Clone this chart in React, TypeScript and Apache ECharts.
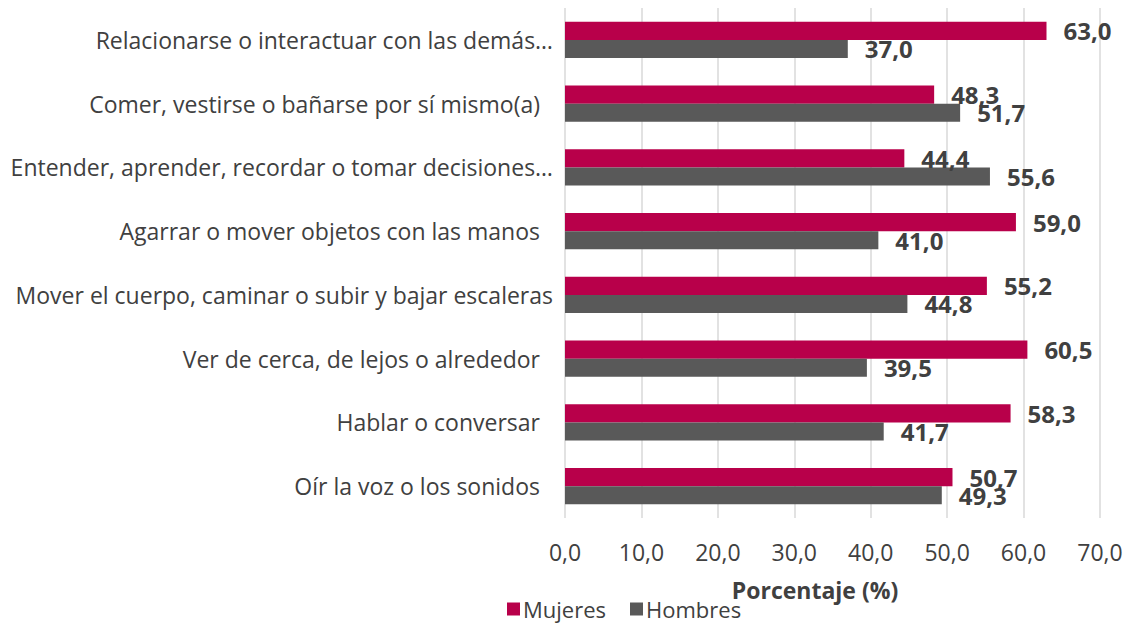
import React, { useEffect, useRef } from "react";
import * as echarts from "echarts";

const categories = [
  "Relacionarse o interactuar con las demás…",
  "Comer, vestirse o bañarse por sí mismo(a) ",
  "Entender, aprender, recordar o tomar decisiones…",
  "Agarrar o mover objetos con las manos ",
  "Mover el cuerpo, caminar o subir y bajar escaleras",
  "Ver de cerca, de lejos o alrededor ",
  "Hablar o conversar ",
  "Oír la voz o los sonidos ",
];
const mujeres = [63.0, 48.3, 44.4, 59.0, 55.2, 60.5, 58.3, 50.7];
const hombres = [37.0, 51.7, 55.6, 41.0, 44.8, 39.5, 41.7, 49.3];
const seriesNames = ["Mujeres", "Hombres"];
const axisTitle = "Porcentaje (%)";

const FONT = "'Open Sans', 'Noto Sans', sans-serif";
const fmt = (v: number) => v.toFixed(1).replace(".", ",");

export default function App() {
  const ref = useRef<HTMLDivElement>(null);
  useEffect(() => {
    if (!ref.current) return;
    const chart = echarts.init(ref.current, null, { renderer: "svg" });
    const label = {
      show: true,
      position: "right" as const,
      distance: 17,
      fontFamily: FONT,
      fontSize: 24,
      fontWeight: "bold" as const,
      color: "#404040",
      formatter: (p: any) => fmt(p.value),
    };
    chart.setOption({
      animation: false,
      textStyle: { fontFamily: FONT },
      grid: { left: 565, right: 26, top: 8, bottom: 106, containLabel: false },
      legend: {
        data: seriesNames,
        top: 598,
        left: 507,
        padding: 0,
        itemWidth: 13,
        itemHeight: 13,
        itemGap: 24,
        icon: "rect",
        textStyle: { fontFamily: FONT, fontSize: 22, color: "#404040", padding: [0, 0, 0, -2] },
      },
      xAxis: {
        type: "value",
        min: 0,
        max: 70,
        interval: 10,
        name: axisTitle,
        nameLocation: "middle",
        nameGap: 60,
        nameTextStyle: {
          fontFamily: FONT,
          fontSize: 23,
          fontWeight: "bold",
          color: "#404040",
          padding: [0, 35, 0, 0],
        },
        axisLine: { show: false },
        axisTick: { show: false },
        axisLabel: {
          margin: 22,
          fontFamily: FONT,
          fontSize: 23,
          color: "#404040",
          formatter: (v: number) => fmt(v),
        },
        splitLine: { show: true, lineStyle: { color: "#D9D9D9", width: 1.5 } },
      },
      yAxis: {
        type: "category",
        data: categories,
        inverse: true,
        axisLine: { show: false },
        axisTick: { show: false },
        axisLabel: {
          margin: 12,
          fontFamily: FONT,
          fontSize: 23,
          color: "#404040",
          formatter: (v: string) =>
            v.endsWith(" ") ? `{p|${v.trimEnd()}}` : `{n|${v}}`,
          rich: {
            p: { fontFamily: FONT, fontSize: 23, color: "#404040", padding: [0, 13, 0, 0] },
            n: { fontFamily: FONT, fontSize: 23, color: "#404040" },
          },
        },
      },
      series: [
        {
          name: seriesNames[0],
          type: "bar",
          data: mujeres,
          barGap: "0%",
          barCategoryGap: "43%",
          itemStyle: { color: "#B8004A" },
          label,
        },
        {
          name: seriesNames[1],
          type: "bar",
          data: hombres,
          barGap: "0%",
          barCategoryGap: "43%",
          itemStyle: { color: "#595959" },
          label,
        },
      ],
    });
    return () => chart.dispose();
  }, []);
  return (
    <div
      ref={ref}
      style={{ position: "absolute", left: 0, top: 0, width: 1126, height: 624 }}
    />
  );
}
